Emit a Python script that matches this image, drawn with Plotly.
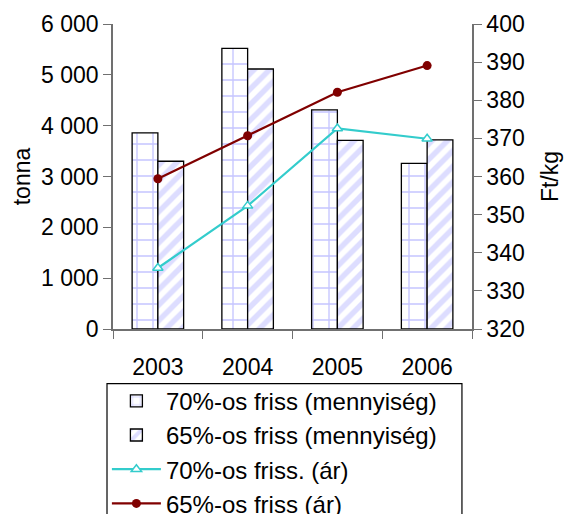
import plotly.graph_objects as go

years = ["2003", "2004", "2005", "2006"]
qty_70 = [3860, 5520, 4310, 3260]
qty_65 = [3300, 5115, 3710, 3720]
price_70 = [336.0, 352.3, 372.6, 369.9]
price_65 = [359.4, 370.7, 382.1, 389.1]

names = ["70%-os friss (mennyiség)", "65%-os friss (mennyiség)",
         "70%-os friss. (ár)", "65%-os friss (ár)"]

FONT = "Liberation Sans, Arial, sans-serif"
AX = "#707070"

fig = go.Figure()
fig.add_trace(go.Bar(
    x=years, y=qty_70, name=names[0],
    marker=dict(color="white", line=dict(color="black", width=1.3),
                pattern=dict(shape="+", fgcolor="#8a8aff", bgcolor="white",
                             size=16, solidity=0.16, fillmode="overlay")),
))
fig.add_trace(go.Bar(
    x=years, y=qty_65, name=names[1],
    marker=dict(color="white", line=dict(color="black", width=1.3),
                pattern=dict(shape="/", fgcolor="#bcbcff", bgcolor="white",
                             size=11, solidity=0.5, fillmode="overlay")),
))
fig.add_trace(go.Scatter(
    x=years, y=price_70, name=names[2], yaxis="y2", mode="lines+markers",
    line=dict(color="#33cccc", width=2.2),
    marker=dict(symbol="triangle-up", size=9, color="white",
                line=dict(color="#33cccc", width=1.5)),
))
fig.add_trace(go.Scatter(
    x=years, y=price_65, name=names[3], yaxis="y2", mode="lines+markers",
    line=dict(color="#800000", width=2.2),
    marker=dict(symbol="circle", size=9, color="#800000"),
))

tickfont = dict(family=FONT, size=23, color="black")

fig.update_layout(
    width=564, height=514,
    margin=dict(l=113, r=92, t=24, b=185, autoexpand=False),
    paper_bgcolor="white", plot_bgcolor="white",
    separators=", ",
    barmode="group", bargap=0.426, bargroupgap=0,
    font=dict(family=FONT, size=23, color="black"),
    xaxis=dict(type="category", categoryarray=years, categoryorder="array",
               range=[-0.5, 3.5], tickson="boundaries",
               ticks="outside", ticklen=8, tickwidth=1.3, tickcolor=AX,
               showline=True, linecolor=AX, linewidth=1.5,
               showgrid=False, zeroline=False, tickfont=tickfont,
               ticklabelstandoff=17),
    yaxis=dict(range=[0, 6000], dtick=1000, tickformat=",",
               ticks="outside", ticklen=8, tickwidth=1.3, tickcolor=AX,
               showline=True, linecolor=AX, linewidth=1.5,
               showgrid=False, zeroline=False, tickfont=tickfont,
               title=dict(text="tonna", font=dict(family=FONT, size=23), standoff=4)),
    yaxis2=dict(range=[320, 400], dtick=10, overlaying="y", side="right",
                anchor="x",
                ticks="outside", ticklen=8, tickwidth=1.3, tickcolor=AX,
                showline=True, linecolor=AX, linewidth=1.5,
                showgrid=False, zeroline=False, tickfont=tickfont,
                title=dict(text="Ft/kg", font=dict(family=FONT, size=23), standoff=18)),
    xaxis3=dict(type="linear", range=[-0.5, 3.5], overlaying="x", anchor="y",
                tickvals=[-0.5, 0.5, 1.5, 2.5, 3.5], showticklabels=False,
                ticks="inside", ticklen=8, tickwidth=1.3, tickcolor=AX,
                showline=False, showgrid=False, zeroline=False),
    yaxis3=dict(range=[0, 6000], dtick=1000, overlaying="y", anchor="x",
                showticklabels=False, ticks="inside", ticklen=6, tickwidth=1.3,
                tickcolor=AX, showline=False, showgrid=False, zeroline=False),
    yaxis4=dict(range=[320, 400], dtick=10, overlaying="y", side="right",
                anchor="x", showticklabels=False, ticks="inside", ticklen=6,
                tickwidth=1.3, tickcolor=AX, showline=False, showgrid=False,
                zeroline=False),
    showlegend=True,
    legend=dict(x=-0.017, y=-0.163, xanchor="left", yanchor="top",
                borderwidth=0, bgcolor="rgba(0,0,0,0)",
                font=dict(family=FONT, size=24, color="black"),
                itemwidth=49, traceorder="normal"),
    shapes=[dict(type="rect", xref="paper", yref="paper",
                 x0=-0.0167, x1=0.972, y0=-0.179, y1=-0.7,
                 line=dict(color="black", width=1.2), fillcolor="rgba(0,0,0,0)",
                 layer="below")],
)

fig.write_html("out.html", config={"displayModeBar": False},
               post_script="document.body.style.margin='0';")
